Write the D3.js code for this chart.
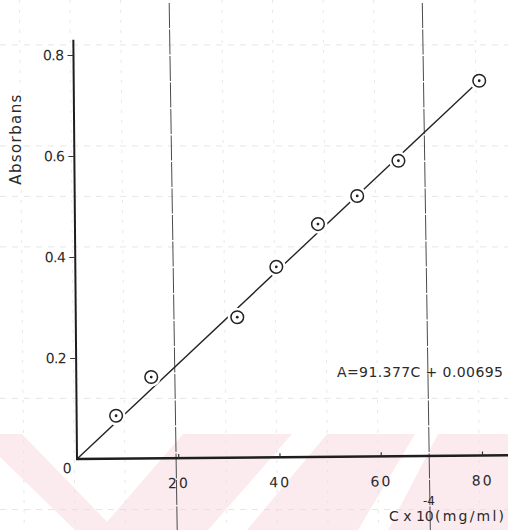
<!DOCTYPE html>
<html>
<head>
<meta charset="utf-8">
<script src="https://cdn.jsdelivr.net/npm/d3@7"></script>
<style>
  body { margin: 0; background: #fff; }
  svg text { font-family: "DejaVu Sans", sans-serif; fill: #2b2b2b; }
</style>
</head>
<body>
<svg id="chart" width="508" height="530"></svg>
<script>
// concentration (x 10^-4 mg/ml) and absorbance
const conc = [7.8, 14.8, 31.9, 39.7, 48.0, 55.8, 64.0, 80.1];
const absorb = [0.085, 0.161, 0.278, 0.377, 0.461, 0.516, 0.585, 0.742];
const fitC = [0, 80.1];
const fitA = [0, 0.742];
const xTicks = [20, 40, 60, 80];
const yTicks = [0.2, 0.4, 0.6, 0.8];
const paperV = [-11, -1, 9, 29, 39, 49, 59, 79];   // graph paper lines (C units)
const paperMajorV = [19, 69];
const paperH = [0.82, 0.62, 0.52, 0.42, 0.12, -0.1];

const W = 508, H = 530;
const svg = d3.select("#chart");

const x = d3.scaleLinear().domain([0, 80]).range([77, 482]);
const y = d3.scaleLinear().domain([0, 0.8]).range([459, 55]);

// watermark chevrons
const pink = "#fcebee";
const wm = [
    [[0, 434], [22, 434], [115, 530], [75, 530], [0, 457]],
    [[100, 530], [208, 530], [292, 434], [183, 434]],
    [[247, 530], [358, 530], [415, 434], [327, 434]],
    [[388, 530], [508, 530], [508, 434], [438, 434]]
];
svg.append("g").selectAll("polygon").data(wm).join("polygon")
    .attr("points", d => d.map(p => p.join(",")).join(" "))
    .attr("fill", pink);

// graph paper
const paper = svg.append("g");
paper.selectAll(".pv").data(paperV).join("line")
    .attr("x1", d => x(d) - 2).attr("x2", d => x(d) + 3)
    .attr("y1", 0).attr("y2", H)
    .attr("stroke", "#e2e2e2").attr("stroke-width", 0.8)
    .attr("stroke-dasharray", "3,7");
paper.selectAll(".ph").data(paperH).join("line")
    .attr("x1", 0).attr("x2", W)
    .attr("y1", d => y(d)).attr("y2", d => y(d))
    .attr("stroke", "#e0e0e0").attr("stroke-width", 0.8)
    .attr("stroke-dasharray", "6,6");
paper.selectAll(".pm").data(paperMajorV).join("line")
    .attr("x1", d => x(d) - 4).attr("x2", d => x(d) + 4)
    .attr("y1", 3).attr("y2", H)
    .attr("stroke", "#4a4a4a").attr("stroke-width", 1)
    .attr("stroke-dasharray", "25,1.5");

// the scan is slightly rotated
const g = svg.append("g").attr("transform", `rotate(-0.5, ${x(0)}, ${y(0)})`);

// axis lines
g.append("line")
    .attr("x1", x(0)).attr("x2", x(0))
    .attr("y1", y(0)).attr("y2", y(0.83))
    .attr("stroke", "#1e1e1e").attr("stroke-width", 2);
g.append("line")
    .attr("x1", x(0) - 1).attr("x2", x(87))
    .attr("y1", y(0)).attr("y2", y(0))
    .attr("stroke", "#1e1e1e").attr("stroke-width", 2.5);

const yAxis = g.append("g")
    .attr("transform", `translate(${x(0)},0)`)
    .call(d3.axisLeft(y).tickValues(yTicks).tickSize(6).tickPadding(4)
        .tickFormat(d3.format(".1f")));
yAxis.select(".domain").remove();
yAxis.selectAll("line").attr("stroke", "#333").attr("stroke-width", 1);
yAxis.selectAll("text").style("font-size", "14px").attr("letter-spacing", "-0.6");

const xAxis = g.append("g")
    .attr("transform", `translate(0,${y(0)})`)
    .call(d3.axisBottom(x).tickValues(xTicks).tickSizeInner(-4).tickSizeOuter(0).tickPadding(20)
        .tickFormat(d3.format("d")));
xAxis.select(".domain").remove();
xAxis.selectAll("line").attr("stroke", "#333").attr("stroke-width", 1.2);
xAxis.selectAll("text").style("font-size", "14px").attr("letter-spacing", "2");

g.append("text")
    .attr("x", x(0) - 10).attr("y", y(0) + 14)
    .attr("text-anchor", "middle")
    .style("font-size", "14px")
    .text("0");

// fitted line
const line = d3.line().x(d => x(d[0])).y(d => y(d[1]));
g.append("path")
    .datum(fitC.map((c, i) => [c, fitA[i]]))
    .attr("d", line)
    .attr("fill", "none").attr("stroke", "#222").attr("stroke-width", 1.4);

// points: white gap around each circle, ring and centre dot
const pts = conc.map((c, i) => ({ c, a: absorb[i] }));
const pg = g.append("g").selectAll("g").data(pts).join("g")
    .attr("transform", d => `translate(${x(d.c)},${y(d.a)})`);
pg.append("circle").attr("r", 9.5).attr("fill", "#fff");
pg.append("circle").attr("r", 6.3).attr("fill", "#fff")
    .attr("stroke", "#222").attr("stroke-width", 1.5);
pg.append("circle").attr("r", 1.4).attr("fill", "#222");

// labels
svg.append("text")
    .attr("transform", "translate(21,139) rotate(-90)")
    .attr("text-anchor", "middle")
    .style("font-size", "15px")
    .attr("letter-spacing", "1.4")
    .text("Absorbans");

svg.append("text")
    .attr("x", 337).attr("y", 377)
    .attr("textLength", 166)
    .style("font-size", "14px")
    .text("A=91.377C + 0.00695");

svg.append("text")
    .attr("x", 389).attr("y", 521)
    .style("font-size", "14px")
    .text("C x 10");
svg.append("text")
    .attr("x", 435).attr("y", 521)
    .attr("textLength", 69)
    .style("font-size", "14px")
    .text("(mg/ml)");
svg.append("text")
    .attr("x", 423).attr("y", 505)
    .style("font-size", "12px")
    .text("-4");
</script>
</body>
</html>
